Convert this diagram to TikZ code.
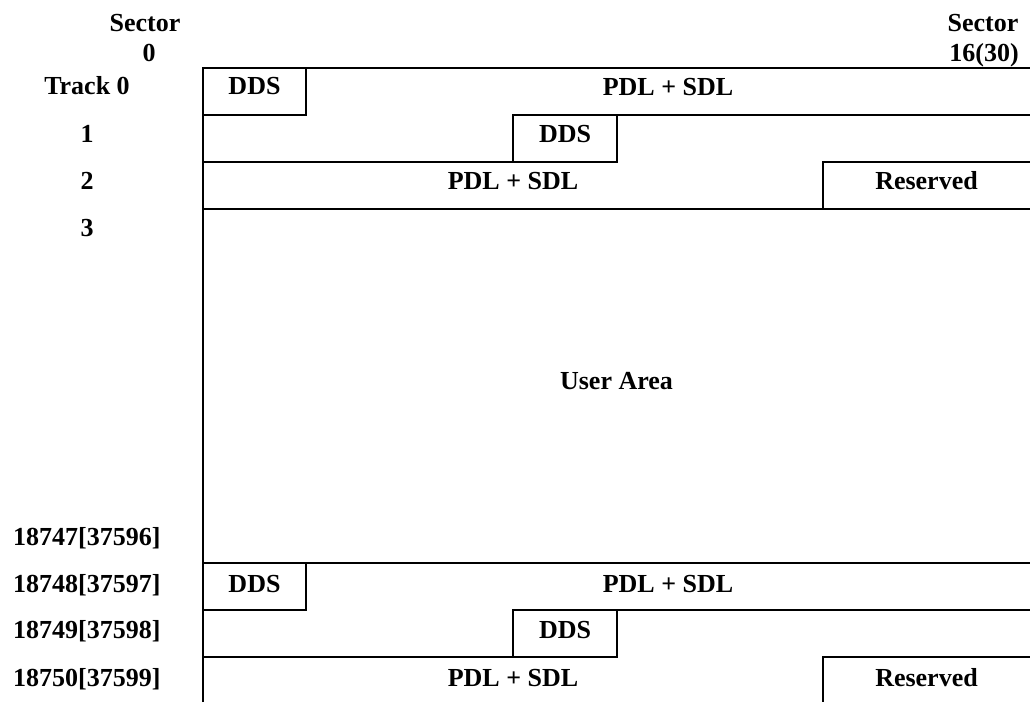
\documentclass[tikz,border=0pt]{standalone}
\usepackage{fontspec}
\setmainfont{Liberation Serif}
\usepackage{tikz}

\begin{document}
\begin{tikzpicture}[x=1pt,y=-1pt,
rule/.style={line width=2pt,draw=black},
lab/.style={font=\fontsize{26}{30}\selectfont\bfseries,inner sep=0pt,anchor=base},
numlab/.style={lab,anchor=base west}]
\useasboundingbox (0,0) rectangle (1030,702);
% column headings
\node[lab] (secfirst) at (145,31) {Sector};
\node[lab] (secfirstnum) at (149,61) {0};
\node[lab] (seclast) at (983,31) {Sector};
\node[lab] (seclastnum) at (984,61) {16(30)};
% track numbers
\node[lab] (trk0) at (87,94) {Track 0};
\node[lab] (trk1) at (87,142) {1};
\node[lab] (trk2) at (87,189) {2};
\node[lab] (trk3) at (87,236) {3};
\node[numlab] (trkA) at (13,545) {18747[37596]};
\node[numlab] (trkB) at (13,592) {18748[37597]};
\node[numlab] (trkC) at (13,638) {18749[37598]};
\node[numlab] (trkD) at (13,686) {18750[37599]};
% first three tracks
\draw[rule] (203,702)--(203,68)--(1030,68);
\draw[rule] (203,115)--(306,115)--(306,68);
\draw[rule] (1030,115)--(513,115)--(513,162);
\draw[rule] (203,162)--(617,162)--(617,115);
\draw[rule] (1030,162)--(823,162)--(823,209);
\draw[rule] (203,209)--(1030,209);
\node[lab] (dds0) at (254.5,94) {DDS};
\node[lab] (pdl0) at (668,95) {PDL + SDL};
\node[lab] (dds1) at (565,142) {DDS};
\node[lab] (pdl2) at (513,189) {PDL + SDL};
\node[lab] (res2) at (926.5,189) {Reserved};
% user area
\node[lab] (user) at (616.5,389) {User Area};
\draw[rule] (203,563)--(1030,563);
% last three tracks
\draw[rule] (203,610)--(306,610)--(306,563);
\draw[rule] (1030,610)--(513,610)--(513,657);
\draw[rule] (203,657)--(617,657)--(617,610);
\draw[rule] (1030,657)--(823,657)--(823,702);
\node[lab] (ddsB) at (254.5,592) {DDS};
\node[lab] (pdlB) at (668,592) {PDL + SDL};
\node[lab] (ddsC) at (565,638) {DDS};
\node[lab] (pdlD) at (513,686) {PDL + SDL};
\node[lab] (resD) at (926.5,686) {Reserved};
\end{tikzpicture}
\end{document}
